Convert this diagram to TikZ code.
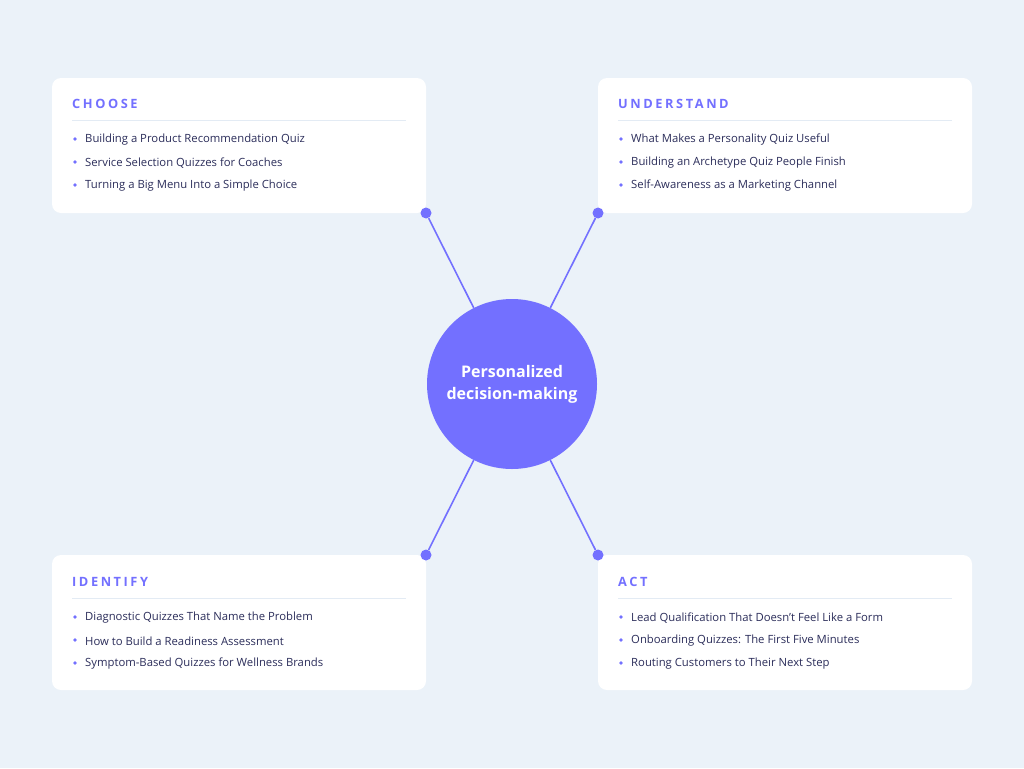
\documentclass[tikz,border=0pt]{standalone}
\usepackage{fontspec}
\setmainfont{Open Sans}
\usetikzlibrary{positioning, calc}
\definecolor{bgblue}{HTML}{EBF2F9}
\definecolor{violet}{HTML}{7370FF}
\definecolor{ink}{HTML}{2B2D5A}
\definecolor{rulecol}{HTML}{E3EBF4}
\tikzset{
  card/.style={fill=white, draw=none, rounded corners=9pt, minimum width=374pt, minimum height=135pt, inner sep=0pt},
  heading/.style={anchor=west, text=violet, font=\bfseries\fontsize{12.8}{14}\selectfont, inner sep=0pt},
  item/.style={anchor=west, text=ink, font=\fontsize{11.3}{13}\selectfont, inner sep=0pt},
  bullet/.style={circle, fill=violet, inner sep=0pt, minimum size=3.6pt},
  dot/.style={circle, fill=violet, inner sep=0pt, minimum size=11pt},
  spoke/.style={violet, line width=1.6pt}
}
\newcommand{\spaced}[1]{\addfontfeatures{LetterSpace=20}#1}
\begin{document}
\begin{tikzpicture}[x=1pt, y=-1pt]
  \fill[bgblue] (0,0) rectangle (1024,768);
  \useasboundingbox (0,0) rectangle (1024,768);

  \node (c1) [card] at (239,145.5) {};
  \node (c2) [card] at (785,145.5) {};
  \node (c3) [card] at (239,622.5) {};
  \node (c4) [card] at (785,622.5) {};

  \node (hub) [circle, fill=violet, minimum size=170pt, text=white, align=center,
    font=\bfseries\fontsize{16}{22}\selectfont] at (512,384) {Personalized\\decision-making};

  \node (d1) [dot] at (426,213) {};
  \node (d2) [dot] at (598,213) {};
  \node (d3) [dot] at (426,555) {};
  \node (d4) [dot] at (598,555) {};

  \path [spoke]
  (d1) edge (hub)
  (d2) edge (hub)
  (d3) edge (hub)
  (d4) edge (hub);

  % card contents
  \foreach \x/\y/\head/\a/\b/\c in {
    72/104/CHOOSE/Building a Product Recommendation Quiz/Service Selection Quizzes for Coaches/Turning a Big Menu Into a Simple Choice,
    618/104/UNDERSTAND/What Makes a Personality Quiz Useful/Building an Archetype Quiz People Finish/Self-Awareness as a Marketing Channel,
    72/582/IDENTIFY/Diagnostic Quizzes That Name the Problem/How to Build a Readiness Assessment/Symptom-Based Quizzes for Wellness Brands,
    618/582/ACT/Lead Qualification That Doesn't Feel Like a Form/Onboarding Quizzes: The First Five Minutes/Routing Customers to Their Next Step}
  {
    \node [heading] at (\x,\y) {\spaced{\head}};
    \draw [rulecol, line width=1pt] (\x,\y+16) -- (\x+334,\y+16);
    \node [bullet] at (\x+3,\y+35) {};
    \node [item] at (\x+13,\y+36) {\a};
    \node [bullet] at (\x+3,\y+58) {};
    \node [item] at (\x+13,\y+59) {\b};
    \node [bullet] at (\x+3,\y+81) {};
    \node [item] at (\x+13,\y+82) {\c};
  }
\end{tikzpicture}
\end{document}
